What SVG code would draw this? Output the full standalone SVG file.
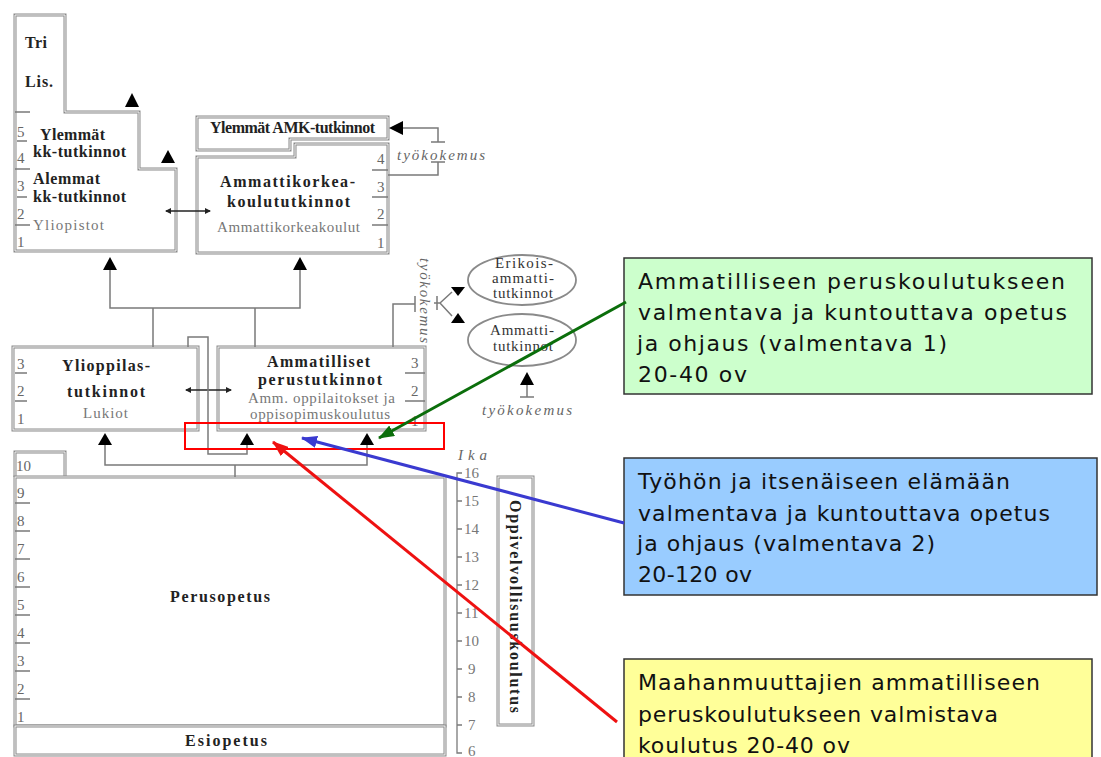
<svg xmlns="http://www.w3.org/2000/svg" width="1101" height="757" viewBox="0 0 1101 757">
<defs>
<style>
.o{fill:#fff;stroke:#8a8a8a;stroke-width:3}
.i{fill:none;stroke:#fff;stroke-width:0.9}
.ln{fill:none;stroke:#7a7a7a;stroke-width:1.5}
.tk{fill:none;stroke:#7a7a7a;stroke-width:1.3}
.tri{fill:#000}
.b{font-family:"Liberation Serif",serif;font-weight:bold;font-size:16px;fill:#222}
.g{font-family:"Liberation Serif",serif;font-size:15px;fill:#777}
.n{font-family:"Liberation Serif",serif;font-size:15px;fill:#666}
.e{font-family:"Liberation Serif",serif;font-size:15px;fill:#333}
.it{font-family:"Liberation Serif",serif;font-style:italic;font-size:15px;fill:#666}
.age{font-family:"Liberation Serif",serif;font-size:15px;fill:#777}
.c{font-family:"DejaVu Sans",Verdana,sans-serif;font-size:22px;fill:#111}
.cb{stroke:#333;stroke-width:1.5}
</style>
<marker id="mg" markerUnits="userSpaceOnUse" markerWidth="16" markerHeight="12" refX="15" refY="6" orient="auto"><path d="M0,0L16,6L0,12Z" fill="#0b6e0b"/></marker>
<marker id="mb" markerUnits="userSpaceOnUse" markerWidth="16" markerHeight="12" refX="15" refY="6" orient="auto"><path d="M0,0L16,6L0,12Z" fill="#3a3ad0"/></marker>
<marker id="mr" markerUnits="userSpaceOnUse" markerWidth="16" markerHeight="12" refX="15" refY="6" orient="auto"><path d="M0,0L16,6L0,12Z" fill="#ee1111"/></marker>
<marker id="ms" markerUnits="userSpaceOnUse" markerWidth="6" markerHeight="6" refX="5" refY="3" orient="auto-start-reverse"><path d="M0,0L6,3L0,6Z" fill="#222"/></marker>
</defs>
<rect x="0" y="0" width="1101" height="757" fill="#fff"/>

<g id="yliopisto">
<path class="o" d="M15,15H65V112H139V169H176V251H15Z"/>
<path class="i" d="M15,15H65V112H139V169H176V251H15Z"/>
<path class="tk" d="M15,112H30M17,141H27M15,169H30M17,197H27M15,225H30"/>
<text class="b" x="25" y="48" textLength="22">Tri</text>
<text class="b" x="25" y="87" textLength="28">Lis.</text>
<text class="n" x="17" y="137">5</text>
<text class="n" x="17" y="163">4</text>
<text class="n" x="17" y="191">3</text>
<text class="n" x="17" y="219">2</text>
<text class="n" x="17" y="247">1</text>
<text class="b" x="40" y="140" textLength="65">Ylemmät</text>
<text class="b" x="33" y="157" textLength="93">kk-tutkinnot</text>
<text class="b" x="33" y="184" textLength="67">Alemmat</text>
<text class="b" x="33" y="202" textLength="93">kk-tutkinnot</text>
<text class="g" x="33" y="230" textLength="71">Yliopistot</text>
</g>

<g id="ylemmat-amk">
<path class="o" d="M197,117H388V139H290V150H197Z"/>
<path class="i" d="M197,117H388V139H290V150H197Z"/>
<text class="b" x="210" y="133" font-size="13" textLength="165">Ylemmät AMK-tutkinnot</text>
</g>

<g id="amk">
<path class="o" d="M197,157H295V144H388V253H197Z"/>
<path class="i" d="M197,157H295V144H388V253H197Z"/>
<path class="tk" d="M372,170H388M372,197H388M372,225H388"/>
<text class="n" x="377" y="164">4</text>
<text class="n" x="377" y="192">3</text>
<text class="n" x="377" y="219">2</text>
<text class="n" x="377" y="248">1</text>
<text class="b" x="220" y="187" textLength="135">Ammattikorkea-</text>
<text class="b" x="227" y="207" textLength="123">koulututkinnot</text>
<text class="g" x="217" y="232" textLength="143">Ammattikorkeakoulut</text>
</g>

<g id="ylioppilas">
<rect class="o" x="13" y="347" width="185" height="83"/>
<rect class="i" x="13" y="347" width="185" height="83"/>
<path class="tk" d="M15,373H27M15,401H27"/>
<text class="n" x="17" y="369">3</text>
<text class="n" x="17" y="396">2</text>
<text class="n" x="17" y="424">1</text>
<text class="b" x="62" y="371" textLength="88">Ylioppilas-</text>
<text class="b" x="67" y="397" textLength="78">tutkinnot</text>
<text class="g" x="83" y="418" textLength="45">Lukiot</text>
</g>

<g id="ammatilliset">
<rect class="o" x="218" y="347" width="207" height="83"/>
<rect class="i" x="218" y="347" width="207" height="83"/>
<path class="tk" d="M405,373H425M405,401H425"/>
<text class="n" x="411" y="368">3</text>
<text class="n" x="411" y="396">2</text>
<text class="n" x="411" y="426">1</text>
<text class="b" x="267" y="367" textLength="103">Ammatilliset</text>
<text class="b" x="258" y="385" textLength="124">perustutkinnot</text>
<text class="g" x="248" y="403" textLength="147">Amm. oppilaitokset ja</text>
<text class="g" x="250" y="419" textLength="140">oppisopimuskoulutus</text>
</g>

<g id="perusopetus">
<path class="o" d="M15,477V452H65V477"/>
<path class="i" d="M15,477V452H65V477"/>
<rect class="o" x="15" y="477" width="430" height="249"/>
<rect class="i" x="15" y="477" width="430" height="249"/>
<path class="tk" d="M15,503H30M15,531H30M15,559H30M15,587H30M15,615H30M15,643H30M15,671H30M15,699H30"/>
<text class="n" x="16" y="471">10</text>
<text class="n" x="17" y="498">9</text>
<text class="n" x="17" y="526">8</text>
<text class="n" x="17" y="554">7</text>
<text class="n" x="17" y="582">6</text>
<text class="n" x="17" y="610">5</text>
<text class="n" x="17" y="638">4</text>
<text class="n" x="17" y="666">3</text>
<text class="n" x="17" y="694">2</text>
<text class="n" x="17" y="722">1</text>
<text class="b" x="170" y="602" font-size="17" textLength="100">Perusopetus</text>
</g>

<g id="esiopetus">
<rect class="o" x="15" y="726" width="430" height="29"/>
<rect class="i" x="15" y="726" width="430" height="29"/>
<text class="b" x="185" y="746" font-size="17" textLength="82">Esiopetus</text>
</g>

<g id="ika">
<text class="it" x="458" y="460" textLength="29">Ika</text>
<path class="tk" d="M462,473H457V753H462"/>
<path class="tk" d="M457,501H462M457,529H462M457,557H462M457,585H462M457,613H462M457,641H462M457,669H462M457,697H462M457,725H462"/>
<text class="age" x="464" y="478">16</text>
<text class="age" x="464" y="506">15</text>
<text class="age" x="464" y="534">14</text>
<text class="age" x="464" y="562">13</text>
<text class="age" x="464" y="590">12</text>
<text class="age" x="464" y="618">11</text>
<text class="age" x="464" y="646">10</text>
<text class="age" x="468" y="674">9</text>
<text class="age" x="468" y="702">8</text>
<text class="age" x="468" y="730">7</text>
<text class="age" x="468" y="756" font-size="12">6</text>
</g>

<g id="oppivelvollisuus">
<rect class="o" x="498" y="477" width="35" height="248"/>
<rect class="i" x="498" y="477" width="35" height="248"/>
<text class="b" font-size="17" transform="translate(510,500) rotate(90)" textLength="213">Oppivelvollisuuskoulutus</text>
</g>

<g id="erikoisammattitutkinnot">
<ellipse cx="522" cy="280" rx="54" ry="25" fill="#fff" stroke="#8a8a8a" stroke-width="1.8"/>
<text class="e" x="495" y="268" textLength="58">Erikois-</text>
<text class="e" x="492" y="283" textLength="62">ammatti-</text>
<text class="e" x="493" y="298" textLength="60">tutkinnot</text>
</g>

<g id="ammattitutkinnot">
<ellipse cx="522" cy="340" rx="54" ry="26" fill="#fff" stroke="#8a8a8a" stroke-width="1.8"/>
<text class="e" x="490" y="335" textLength="64">Ammatti-</text>
<text class="e" x="493" y="351" textLength="60">tutkinnot</text>
</g>

<g id="connectors">
<path d="M166,211H210" stroke="#222" stroke-width="1.5" marker-start="url(#ms)" marker-end="url(#ms)"/>
<path d="M186,390H231" stroke="#222" stroke-width="1.5" marker-start="url(#ms)" marker-end="url(#ms)"/>
<polygon class="tri" points="132,93 125,107 139,107"/>
<polygon class="tri" points="168,150 161,163 175,163"/>
<polygon class="tri" points="389,128 403,121 403,135"/>
<path class="ln" d="M403,128H438V142M431,142H445M431,162H445M438,162V175H388"/>
<text class="it" x="397" y="160" textLength="88">työkokemus</text>
<polygon class="tri" points="110,257 103,270 117,270"/>
<polygon class="tri" points="300,257 293,270 307,270"/>
<path class="ln" d="M110,270V308H300V270M153,308V347M255,308V347"/>
<path class="ln" d="M393,347V304H415M415,296V312"/>
<text class="it" transform="translate(420,258) rotate(90)" textLength="85">työkokemus</text>
<path class="ln" d="M434,303H440M440,303L452,292M440,303L452,316M437,296V310"/>
<polygon class="tri" points="458,296 451,287 465,287"/>
<polygon class="tri" points="458,313 451,323 465,323"/>
<polygon class="tri" points="527,372 520,385 534,385"/>
<path class="ln" d="M527,385V397M520,397H534"/>
<text class="it" x="482" y="415" textLength="90">työkokemus</text>
<polygon class="tri" points="105,433 98,445 112,445"/>
<polygon class="tri" points="247,433 240,445 254,445"/>
<polygon class="tri" points="367,433 360,445 374,445"/>
<path class="ln" d="M105,445V465H367V445M235,465V477"/>
<path class="ln" d="M188,347V337H208V454H247V445"/>
</g>

<g id="valmentava1">
<rect class="cb" x="624" y="258" width="468" height="136" fill="#ccffcc"/>
<text class="c" x="638" y="289" textLength="427">Ammatilliseen peruskoulutukseen</text>
<text class="c" x="638" y="320" textLength="429">valmentava ja kuntouttava opetus</text>
<text class="c" x="637" y="351" textLength="310">ja ohjaus (valmentava 1)</text>
<text class="c" x="638" y="382" textLength="109">20-40 ov</text>
</g>

<g id="valmentava2">
<rect class="cb" x="624" y="458" width="473" height="137" fill="#99ccff"/>
<text class="c" x="638" y="489" textLength="372">Työhön ja itsenäiseen elämään</text>
<text class="c" x="638" y="521" textLength="412">valmentava ja kuntouttava opetus</text>
<text class="c" x="637" y="551" textLength="298">ja ohjaus (valmentava 2)</text>
<text class="c" x="638" y="582" textLength="114">20-120 ov</text>
</g>

<g id="maahanmuuttajat">
<rect class="cb" x="624" y="659" width="468" height="110" fill="#ffff99"/>
<text class="c" x="638" y="690" textLength="402">Maahanmuuttajien ammatilliseen</text>
<text class="c" x="638" y="722" textLength="360">peruskoulutukseen valmistava</text>
<text class="c" x="638" y="753" textLength="212">koulutus 20-40 ov</text>
</g>

<g id="highlight">
<rect x="185" y="423" width="259" height="26" fill="none" stroke="#ff0000" stroke-width="2"/>
</g>

<g id="pointers">
<line x1="626" y1="302" x2="379" y2="438" stroke="#0b6e0b" stroke-width="3" marker-end="url(#mg)"/>
<line x1="624" y1="523" x2="302" y2="438" stroke="#3a3ad0" stroke-width="3" marker-end="url(#mb)"/>
<line x1="617" y1="722" x2="273" y2="442" stroke="#ee1111" stroke-width="3" marker-end="url(#mr)"/>
</g>
</svg>
